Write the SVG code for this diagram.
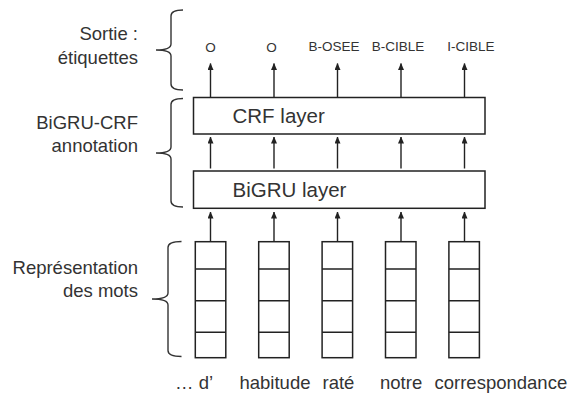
<svg xmlns="http://www.w3.org/2000/svg" width="574" height="401" viewBox="0 0 574 401">
<defs>
<marker id="ah" markerWidth="7" markerHeight="6" refX="6.5" refY="3" orient="auto" markerUnits="userSpaceOnUse" viewBox="0 0 7 6">
<path d="M0,0 L7,3 L0,6 Z" fill="#222"/>
</marker>
<style>
.lbl{font-family:"Liberation Sans",Arial,sans-serif;font-size:18.5px;fill:#333}
.lr{text-anchor:end}
.tag{font-family:"Liberation Sans",Arial,sans-serif;font-size:13.5px;fill:#333;text-anchor:middle}
.lay{font-family:"Liberation Sans",Arial,sans-serif;font-size:20.5px;fill:#333}
.box{fill:#fff;stroke:#222;stroke-width:1.5}
.br{fill:none;stroke:#333;stroke-width:1.4}
.arr{stroke:#222;stroke-width:1.4;fill:none}
</style>
</defs>
<rect width="574" height="401" fill="#fff"/>
<g id="side-labels">
<text class="lbl lr" x="138" y="40">Sortie :</text>
<text class="lbl lr" x="138" y="63.5">étiquettes</text>
<text class="lbl lr" x="138" y="128.5">BiGRU-CRF</text>
<text class="lbl lr" x="138" y="151.5">annotation</text>
<text class="lbl lr" x="138" y="273.5">Représentation</text>
<text class="lbl lr" x="138" y="296.5">des mots</text>
</g>
<g id="braces">
<path class="br" d="M183,10 Q171,10 171,16 L171,44 Q171,50 156,50 Q171,50 171,56 L171,84 Q171,90 183,90"/>
<path class="br" d="M183,98.5 Q171,98.5 171,104.5 L171,147 Q171,153 156,153 Q171,153 171,159 L171,201 Q171,207 183,207"/>
<path class="br" d="M181.5,241.5 Q168,241.5 168,247.5 L168,293 Q168,299 152,299 Q168,299 168,305 L168,350.5 Q168,356.5 181.5,356.5"/>
</g>
<g id="tags">
<text class="tag" x="210.5" y="51.5">O</text>
<text class="tag" x="271.5" y="51.5">O</text>
<text class="tag" x="334" y="50.5">B-OSEE</text>
<text class="tag" x="398" y="50.5">B-CIBLE</text>
<text class="tag" x="471" y="50.5">I-CIBLE</text>
</g>
<g id="crf">
<rect class="box" x="193.5" y="97.5" width="291.5" height="36.5"/>
<text class="lay" x="232.5" y="122.5">CRF layer</text>
</g>
<g id="bigru">
<rect class="box" x="193.5" y="171" width="291.5" height="37.3"/>
<text class="lay" x="232.5" y="196.5">BiGRU layer</text>
</g>
<g id="embeddings">
<g id="emb1"><rect class="box" x="195.3" y="241.7" width="30.5" height="116"/><path class="arr" d="M195.3,269H225.8M195.3,300.7H225.8M195.3,332.3H225.8"/></g>
<g id="emb2"><rect class="box" x="258.7" y="241.7" width="30.5" height="116"/><path class="arr" d="M258.7,269H289.2M258.7,300.7H289.2M258.7,332.3H289.2"/></g>
<g id="emb3"><rect class="box" x="322.1" y="241.7" width="30.5" height="116"/><path class="arr" d="M322.1,269H352.6M322.1,300.7H352.6M322.1,332.3H352.6"/></g>
<g id="emb4"><rect class="box" x="385.5" y="241.7" width="30.5" height="116"/><path class="arr" d="M385.5,269H416M385.5,300.7H416M385.5,332.3H416"/></g>
<g id="emb5"><rect class="box" x="448.9" y="241.7" width="30.5" height="116"/><path class="arr" d="M448.9,269H479.4M448.9,300.7H479.4M448.9,332.3H479.4"/></g>
</g>
<g id="connectors">
<path class="arr" marker-end="url(#ah)" d="M210.5,97.5V63.5"/>
<path class="arr" marker-end="url(#ah)" d="M274,97.5V63.5"/>
<path class="arr" marker-end="url(#ah)" d="M337.5,97.5V63.5"/>
<path class="arr" marker-end="url(#ah)" d="M401,97.5V63.5"/>
<path class="arr" marker-end="url(#ah)" d="M464.5,97.5V63.5"/>
<path class="arr" marker-end="url(#ah)" d="M210.5,168.5V137"/>
<path class="arr" marker-end="url(#ah)" d="M274,168.5V137"/>
<path class="arr" marker-end="url(#ah)" d="M337.5,168.5V137"/>
<path class="arr" marker-end="url(#ah)" d="M401,168.5V137"/>
<path class="arr" marker-end="url(#ah)" d="M464.5,168.5V137"/>
<path class="arr" marker-end="url(#ah)" d="M210.5,241.7V212"/>
<path class="arr" marker-end="url(#ah)" d="M274,241.7V212"/>
<path class="arr" marker-end="url(#ah)" d="M337.5,241.7V212"/>
<path class="arr" marker-end="url(#ah)" d="M401,241.7V212"/>
<path class="arr" marker-end="url(#ah)" d="M464.5,241.7V212"/>
</g>
<g id="words">
<text class="lbl" x="175" y="389">… d’</text>
<text class="lbl" x="239.5" y="389">habitude</text>
<text class="lbl" x="322.5" y="389">raté</text>
<text class="lbl" x="380" y="389">notre</text>
<text class="lbl" x="434.5" y="389">correspondance</text>
</g>
</svg>
